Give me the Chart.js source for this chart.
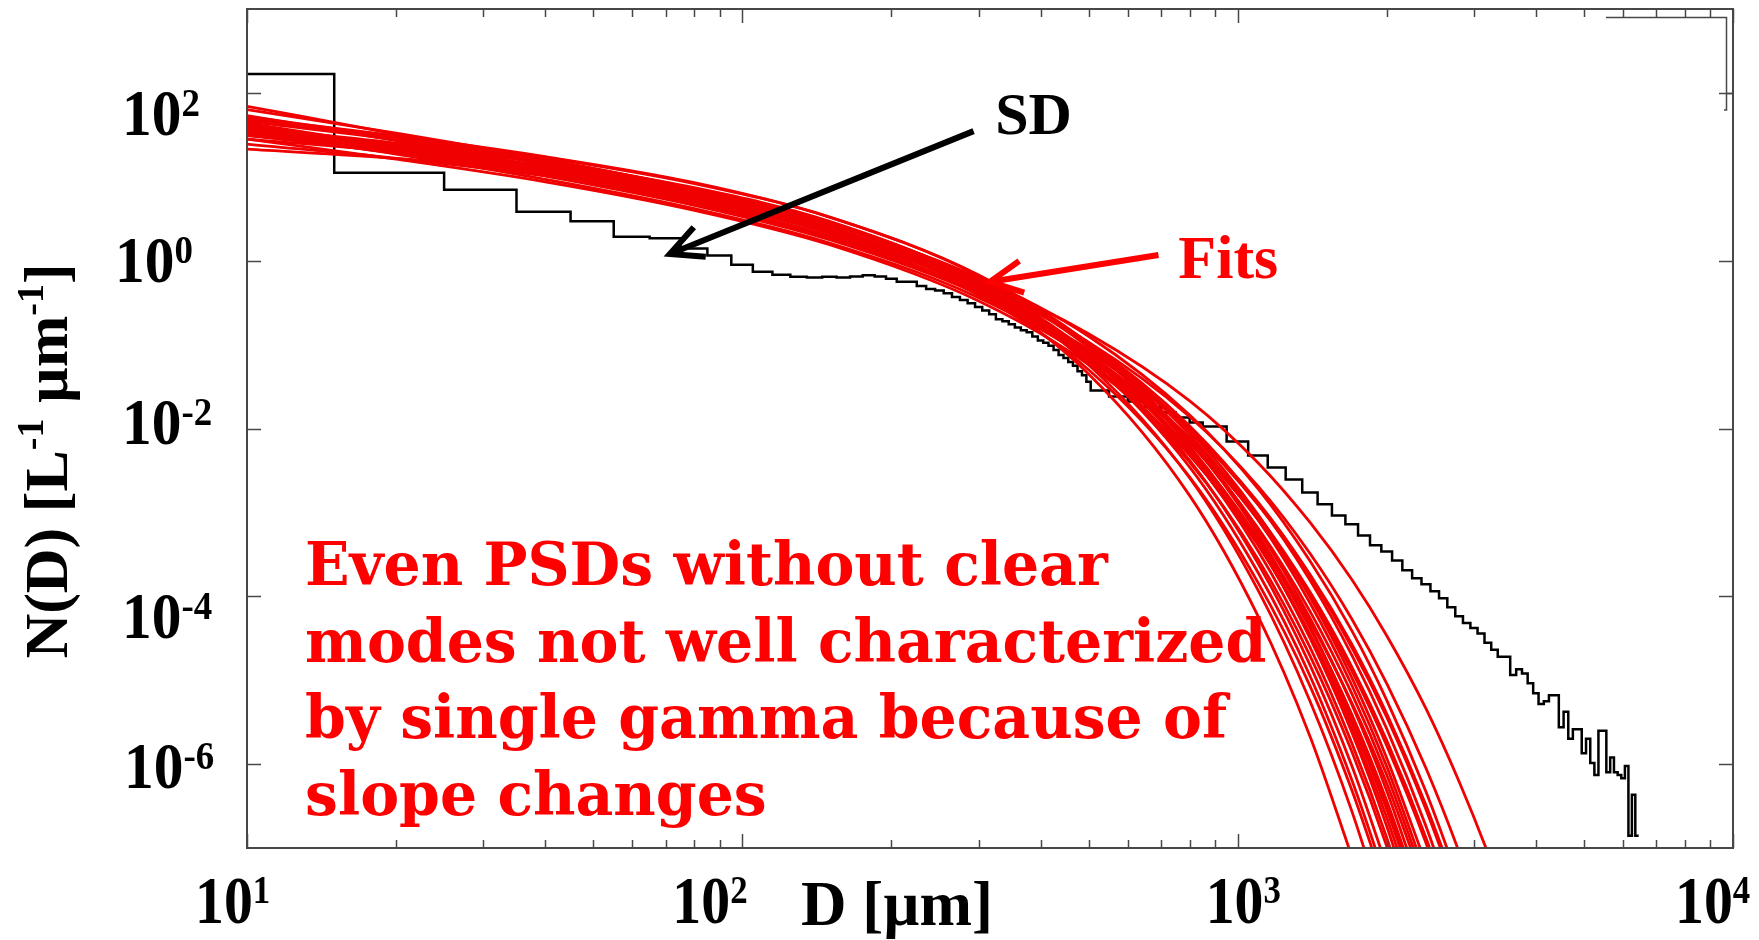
<!DOCTYPE html>
<html>
<head>
<meta charset="utf-8">
<script src="https://cdn.jsdelivr.net/npm/chart.js@4.4.1/dist/chart.umd.min.js"></script>
<style>
  html, body { margin: 0; padding: 0; background: #fff; }
  #wrap { width: 1759px; height: 940px; }
</style>
</head>
<body>
<div id="wrap"><canvas id="chart"></canvas></div>
<script>
// measured size distribution: left edge of each bin [µm] and N(D) [L^-1 µm^-1]
const sdBinStart = [
  10, 15, 25, 35, 45, 55, 65, 75, 85, 95,
  105, 115, 125, 135, 145, 155, 165, 175, 185, 195,
  205, 215, 225, 235, 245, 255, 265, 275, 285, 295,
  305, 315, 325, 335, 345, 355, 365, 375, 385, 395,
  405, 415, 425, 435, 445, 455, 465, 475, 485, 495,
  505, 550, 600, 650, 700, 750, 800,
  850, 950, 1050, 1150, 1250, 1350, 1450, 1550, 1650, 1750,
  1850, 1950, 2050, 2150, 2250, 2350, 2450, 2550, 2650, 2750,
  2850, 2950, 3050, 3150, 3250, 3350, 3450, 3550, 3650, 3750,
  3850, 3950, 4050, 4150, 4250, 4350, 4450, 4550, 4650, 4750,
  4850, 4950, 5050, 5150, 5250, 5350, 5450, 5550, 5650, 5750,
  5850, 5950, 6050, 6150, 6250, 6350,
];
const sdLastEdge = 6450;
const sdValue = [
  168, 11.2, 7.0, 3.83, 2.95, 1.93, 1.85, 1.40, 1.15, 0.895,
  0.74, 0.68, 0.645, 0.63, 0.645, 0.63, 0.65, 0.67, 0.65, 0.61,
  0.56, 0.56, 0.50, 0.46, 0.44, 0.41, 0.37, 0.34, 0.31, 0.28,
  0.255, 0.23, 0.20, 0.19, 0.175, 0.16, 0.148, 0.14, 0.125, 0.112,
  0.105, 0.097, 0.086, 0.075, 0.069, 0.062, 0.056, 0.048, 0.043, 0.036,
  0.0283, 0.024, 0.021, 0.018, 0.0155, 0.0135, 0.0118,
  0.0106, 0.0070, 0.00477, 0.00344, 0.00247, 0.00173, 0.00125, 0.00092, 0.00072, 0.00053,
  4.05e-4, 3.43e-4, 2.68e-4, 2.04e-4, 1.64e-4, 1.39e-4, 1.15e-4, 9.5e-5, 7.4e-5, 5.8e-5,
  4.8e-5, 4.2e-5, 3.6e-5, 2.8e-5, 2.3e-5, 1.9e-5, 1.9e-5, 1.15e-5, 1.35e-5, 1.2e-5,
  9.2e-6, 7.0e-6, 5.2e-6, 5.6e-6, 6.6e-6, 6.6e-6, 2.75e-6, 4.2e-6, 2.0e-6, 2.6e-6,
  2.6e-6, 1.35e-6, 2.0e-6, 1.03e-6, 7.4e-7, 2.5e-6, 2.5e-6, 8.0e-7, 1.2e-6, 8.0e-7,
  7.4e-7, 6.8e-7, 9.5e-7, 1.4e-7, 4.3e-7, 1.4e-7,
];

// gamma fits: log10 N(D) of each fit sampled at fitDiameters [µm]
const fitDiameters = [10, 20, 40, 80, 150, 300, 500, 800, 1100, 1400, 1700, 2000, 2400, 2800, 3200, 3600];
const fitLogN = [
  [1.84, 1.51, 1.16, 0.78, 0.36, -0.24, -0.87, -1.67, -2.41, -3.12, -3.80, -4.47, -5.34, -6.21, -7.06, -7.91],
  [1.73, 1.43, 1.11, 0.74, 0.33, -0.30, -0.97, -1.86, -2.69, -3.49, -4.27, -5.04, -6.05, -7.05, -8.04],
  [1.80, 1.52, 1.21, 0.85, 0.44, -0.20, -0.90, -1.84, -2.72, -3.58, -4.41, -5.24, -6.33, -7.40],
  [1.62, 1.34, 1.03, 0.67, 0.26, -0.38, -1.08, -2.02, -2.91, -3.77, -4.61, -5.44, -6.54, -7.62],
  [1.71, 1.45, 1.15, 0.80, 0.39, -0.26, -0.98, -1.97, -2.90, -3.81, -4.70, -5.58, -6.74, -7.89],
  [1.53, 1.27, 0.97, 0.62, 0.21, -0.44, -1.17, -2.15, -3.09, -4.00, -4.89, -5.78, -6.94, -8.10],
  [1.72, 1.47, 1.20, 0.86, 0.45, -0.22, -0.98, -2.03, -3.03, -4.01, -4.97, -5.93, -7.19],
  [1.59, 1.35, 1.08, 0.74, 0.34, -0.33, -1.10, -2.17, -3.19, -4.18, -5.16, -6.13, -7.42],
  [1.45, 1.21, 0.94, 0.60, 0.19, -0.48, -1.24, -2.30, -3.31, -4.30, -5.27, -6.23, -7.51],
  [1.66, 1.44, 1.18, 0.85, 0.45, -0.23, -1.03, -2.14, -3.21, -4.26, -5.29, -6.32, -7.68],
  [1.50, 1.28, 1.02, 0.70, 0.29, -0.39, -1.19, -2.32, -3.39, -4.45, -5.50, -6.54, -7.91],
  [1.58, 1.37, 1.12, 0.81, 0.40, -0.29, -1.11, -2.27, -3.38, -4.48, -5.57, -6.64, -8.07],
  [1.67, 1.47, 1.23, 0.92, 0.52, -0.18, -1.02, -2.21, -3.36, -4.50, -5.62, -6.74, -8.22],
  [1.49, 1.30, 1.06, 0.76, 0.36, -0.35, -1.20, -2.40, -3.56, -4.71, -5.85, -6.98, -8.48],
  [1.56, 1.38, 1.17, 0.87, 0.47, -0.25, -1.13, -2.38, -3.61, -4.82, -6.02, -7.22],
  [1.39, 1.22, 1.01, 0.72, 0.32, -0.41, -1.30, -2.58, -3.84, -5.07, -6.31, -7.53],
  [1.45, 1.30, 1.11, 0.84, 0.44, -0.30, -1.24, -2.59, -3.93, -5.25, -6.56, -7.87],
  [1.33, 1.22, 1.06, 0.80, 0.41, -0.36, -1.35, -2.80, -4.24, -5.67, -7.10],
  [1.69, 1.45, 1.18, 0.84, 0.44, -0.23, -1.00, -2.07, -3.09, -4.08, -5.06, -6.03, -7.32],
  [1.54, 1.32, 1.06, 0.73, 0.33, -0.35, -1.15, -2.26, -3.33, -4.38, -5.41, -6.44, -7.80],
  [1.70, 1.49, 1.24, 0.93, 0.52, -0.17, -0.99, -2.15, -3.26, -4.36, -5.45, -6.52, -7.95],
  [1.57, 1.31, 1.01, 0.66, 0.25, -0.40, -1.12, -2.11, -3.04, -3.95, -4.84, -5.72, -6.88, -8.03],
  [1.59, 1.40, 1.16, 0.86, 0.46, -0.25, -1.10, -2.30, -3.46, -4.61, -5.75, -6.88, -8.38],
  [1.64, 1.36, 1.05, 0.69, 0.28, -0.36, -1.06, -2.00, -2.88, -3.74, -4.57, -5.40, -6.49, -7.56],
  [1.51, 1.34, 1.13, 0.84, 0.44, -0.29, -1.18, -2.46, -3.72, -4.95, -6.19, -7.41],
  [1.58, 1.36, 1.10, 0.78, 0.37, -0.31, -1.11, -2.24, -3.31, -4.37, -5.42, -6.46, -7.83],
];

const xTickPowers = [1, 2, 3, 4];
const yTickPowers = [2, 0, -2, -4, -6];
const noteLines = [
  'Even PSDs without clear',
  'modes not well characterized',
  'by single gamma because of',
  'slope changes',
];

const RED = '#ff0000';
const FRAME = '#474747';

// annotation anchors, in data units (D, N)
const sdArrow = { from: [293, 35], to: [71.4, 1.2] };
const fitArrow = { from: [692, 1.17], to: [316, 0.56] };
const sdLabelAt = [324, 32.4];
const fitLabelAt = [759, 0.624];
const noteAt = [13.1, 1.37e-4];

// hand placed tick labels: [dx, dy] of the label's left/baseline from its tick
const xLabelNudge = { 1: -52, 2: -70, 3: -32, 4: -58 };
const yLabelNudge = { 2: [0, 42], 0: [-7, 21], '-2': [0, 15], '-4': [0, 42], '-6': [2, 24] };

const TICK_FONT = 'bold 68px "Liberation Serif"';
const TICK_SUP = 'bold 41px "Liberation Serif"';

function runsWidth(ctx, runs) {
  return runs.reduce((w, r) => {
    ctx.font = r.font;
    return w + ctx.measureText(r.text).width;
  }, 0);
}

// draws a row of text pieces (main text and superscripts) on one baseline
function drawRuns(ctx, runs, x, y, align = 'left', scaleX = 1) {
  const width = runsWidth(ctx, runs) * scaleX;
  const start = align === 'center' ? x - width / 2 : align === 'right' ? x - width : x;
  ctx.save();
  ctx.translate(start, y);
  ctx.scale(scaleX, 1);
  ctx.textAlign = 'left';
  ctx.textBaseline = 'alphabetic';
  let cx = 0;
  runs.forEach((r) => {
    ctx.font = r.font;
    ctx.fillText(r.text, cx, -(r.rise || 0));
    cx += ctx.measureText(r.text).width;
  });
  ctx.restore();
}

function drawArrow(ctx, p0, p1, color, width) {
  const ang = Math.atan2(p0[1] - p1[1], p0[0] - p1[0]);
  const len = 36;
  const spread = 0.46;
  ctx.save();
  ctx.strokeStyle = color;
  ctx.lineWidth = width;
  ctx.lineCap = 'butt';
  ctx.lineJoin = 'miter';
  ctx.beginPath();
  ctx.moveTo(p0[0], p0[1]);
  ctx.lineTo(p1[0] + Math.cos(ang) * 4, p1[1] + Math.sin(ang) * 4);
  ctx.stroke();
  ctx.beginPath();
  ctx.moveTo(p1[0] + Math.cos(ang - spread) * len, p1[1] + Math.sin(ang - spread) * len);
  ctx.lineTo(p1[0], p1[1]);
  ctx.lineTo(p1[0] + Math.cos(ang + spread) * len, p1[1] + Math.sin(ang + spread) * len);
  ctx.stroke();
  ctx.restore();
}

const decorations = {
  id: 'decorations',
  afterDatasetsDraw(chart) {
    const { ctx, scales: { x, y } } = chart;
    const px = ([d, n]) => [x.getPixelForValue(d), y.getPixelForValue(n)];
    drawArrow(ctx, px(sdArrow.from), px(sdArrow.to), '#000', 6);
    drawArrow(ctx, px(fitArrow.from), px(fitArrow.to), RED, 6);

    ctx.save();
    ctx.fillStyle = '#000';
    drawRuns(ctx, [{ text: 'SD', font: 'bold 60px "Liberation Serif"' }], ...px(sdLabelAt));
    ctx.fillStyle = RED;
    drawRuns(ctx, [{ text: 'Fits', font: 'bold 62px "Liberation Serif"' }], ...px(fitLabelAt));
    const [nx, ny] = px(noteAt);
    noteLines.forEach((line, i) => {
      drawRuns(ctx, [{ text: line, font: 'bold 59px "DejaVu Serif"' }], nx, ny + i * 76.7, 'left', 0.99);
    });
    ctx.restore();
  },
  afterDraw(chart) {
    const { ctx, chartArea: a, scales: { x, y } } = chart;
    ctx.save();
    ctx.strokeStyle = FRAME;
    ctx.lineWidth = 2;
    ctx.strokeRect(a.left, a.top, a.right - a.left, a.bottom - a.top);

    // inward ticks: decades plus 2..9 on the diameter axis
    ctx.lineWidth = 1.5;
    ctx.beginPath();
    for (let p = 1; p <= 4; p++) {
      for (let m = 1; m <= (p === 4 ? 1 : 9); m++) {
        const tx = Math.round(x.getPixelForValue(m * 10 ** p)) + 0.5;
        const len = m === 1 ? 14 : 8;
        ctx.moveTo(tx, a.bottom); ctx.lineTo(tx, a.bottom - len);
        ctx.moveTo(tx, a.top); ctx.lineTo(tx, a.top + len);
      }
    }
    yTickPowers.forEach((p) => {
      const ty = Math.round(y.getPixelForValue(10 ** p)) + 0.5;
      ctx.moveTo(a.left, ty); ctx.lineTo(a.left + 14, ty);
      ctx.moveTo(a.right, ty); ctx.lineTo(a.right - 14, ty);
    });
    ctx.stroke();

    // leftover box of the stacked axes in the top right corner
    ctx.lineWidth = 1.5;
    ctx.beginPath();
    ctx.moveTo(a.right - 127, a.top + 8.5);
    ctx.lineTo(a.right - 6.5, a.top + 8.5);
    ctx.lineTo(a.right - 6.5, a.top + 101);
    ctx.lineTo(a.right - 9, a.top + 101);
    ctx.moveTo(a.right - 6.5, y.getPixelForValue(100) + 0.5);
    ctx.lineTo(a.right, y.getPixelForValue(100) + 0.5);
    ctx.stroke();

    ctx.fillStyle = '#000';
    // diameter tick labels
    xTickPowers.forEach((p) => {
      drawRuns(ctx, [
        { text: '10', font: TICK_FONT },
        { text: String(p), font: TICK_SUP, rise: 20 },
      ], x.getPixelForValue(10 ** p) + xLabelNudge[p], a.bottom + 75, 'left', 0.85);
    });
    // concentration tick labels
    yTickPowers.forEach((p) => {
      const [dx, dy] = yLabelNudge[p];
      drawRuns(ctx, [
        { text: '10', font: 'bold 66px "Liberation Serif"' },
        { text: String(p), font: TICK_SUP, rise: 19 },
      ], 122 + dx, y.getPixelForValue(10 ** p) + dy, 'left', 0.9);
    });

    // axis titles
    drawRuns(ctx, [{ text: 'D [µm]', font: 'bold 63px "Liberation Serif"' }], a.left + 650, a.bottom + 77, 'center');
    ctx.translate(67, 461);
    ctx.rotate(-Math.PI / 2);
    drawRuns(ctx, [
      { text: 'N(D) [L', font: 'bold 62px "Liberation Serif"' },
      { text: '-1', font: 'bold 38px "Liberation Serif"', rise: 24 },
      { text: ' µm', font: 'bold 62px "Liberation Serif"' },
      { text: '-1', font: 'bold 38px "Liberation Serif"', rise: 24 },
      { text: ']', font: 'bold 62px "Liberation Serif"' },
    ], 0, 0, 'center');
    ctx.restore();
  },
};

const sdPoints = sdBinStart.map((d, i) => ({ x: d, y: sdValue[i] }));
sdPoints.push({ x: sdLastEdge, y: sdValue[sdValue.length - 1] });

const fitSets = fitLogN.map((row) => ({
  data: row.map((v, i) => ({ x: fitDiameters[i], y: 10 ** v })),
  borderColor: 'rgb(240, 0, 0)',
  borderWidth: 2.8,
  cubicInterpolationMode: 'monotone',
  pointRadius: 0,
  order: 0,
}));

new Chart(document.getElementById('chart'), {
  type: 'line',
  data: {
    datasets: [
      {
        label: 'SD',
        data: sdPoints,
        borderColor: '#000',
        borderWidth: 2.5,
        stepped: 'before',
        pointRadius: 0,
        order: 1,
      },
      ...fitSets,
    ],
  },
  options: {
    responsive: true,
    maintainAspectRatio: false,
    devicePixelRatio: 1,
    animation: false,
    events: [],
    layout: { padding: { left: 247, right: 26, top: 9, bottom: 92 } },
    plugins: { legend: { display: false }, tooltip: { enabled: false } },
    scales: {
      x: { type: 'logarithmic', min: 10, max: 10000, display: false },
      y: { type: 'logarithmic', min: 1e-7, max: 1000, display: false },
    },
  },
  plugins: [decorations],
});
</script>
</body>
</html>
